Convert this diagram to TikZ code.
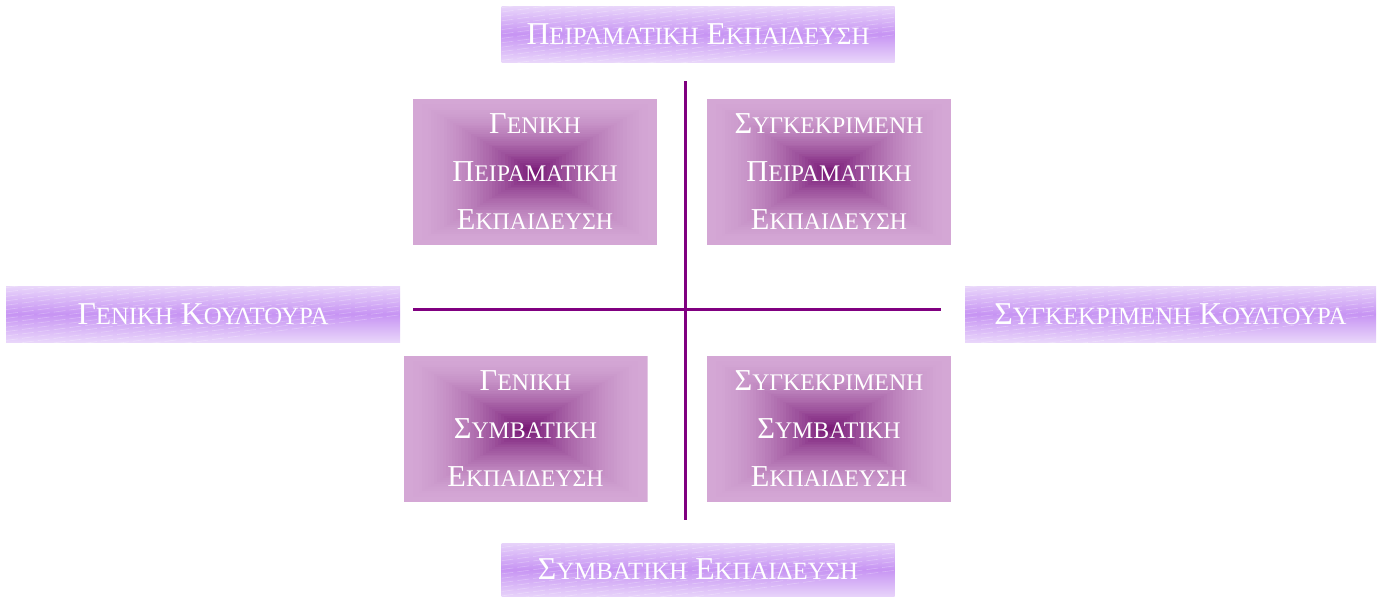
\documentclass[tikz,border=0pt]{standalone}
\usepackage{fontspec}
\setmainfont{Liberation Serif}
\usetikzlibrary{calc}
\definecolor{boxedge}{HTML}{D4A7D5}
\definecolor{boxcore}{HTML}{741372}
\definecolor{banlight}{HTML}{F0E4FC}
\definecolor{bandark}{HTML}{C794F3}
\definecolor{axis}{HTML}{800080}
\newcommand\gsc[2]{#1{\fontsize{11.9}{24}\selectfont #2}}
\newcommand\bsc[2]{#1{\fontsize{12.4}{24}\selectfont #2}}
\tikzset{
  quad/.style={minimum width=122pt, minimum height=73pt, inner sep=0pt,
               text=white, align=center, font=\fontsize{15.2}{24}\selectfont,
               path picture={
                 \foreach \k in {0,...,40}{
                   \pgfmathtruncatemacro\p{100*(\k/40)^1.7}
                   \pgfmathsetmacro\f{1-\k/40}
                   \fill[boxcore!\p!boxedge]
                     ($(path picture bounding box.center)!\f!(path picture bounding box.south west)$)
                     rectangle
                     ($(path picture bounding box.center)!\f!(path picture bounding box.north east)$);
                 }
               }},
  banner/.style={minimum height=28pt, inner sep=0pt, text=white,
                 font=\fontsize{15.9}{18}\selectfont,
                 path picture={
                   \shade[top color=banlight, bottom color=banlight, middle color=bandark,
                          rotate around={10:(path picture bounding box.center)}]
                     ($(path picture bounding box.center)+(-130pt,-17pt)$) rectangle
                     ($(path picture bounding box.center)+(130pt,17pt)$);
                   \foreach \k in {-12,...,12}{
                     \draw[white, opacity=0.28, line width=0.3pt, dash pattern=on 6pt off 2pt]
                       ($(path picture bounding box.west)+(0,2.2*\k pt)$) --
                       ($(path picture bounding box.east)+(0,2.2*\k pt+26pt)$);
                   }
                 }},
  ax/.style={draw=axis, line width=1.5pt}
}
\begin{document}
\begin{tikzpicture}[x=0.5pt,y=-0.5pt]
\useasboundingbox (0,0) rectangle (1378,596);
% banners
\node[banner, minimum width=196.5pt] (P) at (698,34)    {\bsc{Π}{ΕΙΡΑΜΑΤΙΚΗ} \bsc{Ε}{ΚΠΑΙΔΕΥΣΗ}};
\node[banner, minimum width=196.5pt, minimum height=26.5pt] (S) at (698,569.5)
  {\bsc{Σ}{ΥΜΒΑΤΙΚΗ} \bsc{Ε}{ΚΠΑΙΔΕΥΣΗ}};
\node[banner, minimum width=197pt] (G) at (203,314)     {\bsc{Γ}{ΕΝΙΚΗ} \bsc{Κ}{ΟΥΛΤΟΥΡΑ}};
\node[banner, minimum width=205.5pt] (K) at (1170.5,314) {\bsc{Σ}{ΥΓΚΕΚΡΙΜΕΝΗ} \bsc{Κ}{ΟΥΛΤΟΥΡΑ}};
% quadrants
\node[quad] (GP) at (535,172)   {\gsc{Γ}{ΕΝΙΚΗ}\\\gsc{Π}{ΕΙΡΑΜΑΤΙΚΗ}\\\gsc{Ε}{ΚΠΑΙΔΕΥΣΗ}};
\node[quad] (SP) at (829,172)   {\gsc{Σ}{ΥΓΚΕΚΡΙΜΕΝΗ}\\\gsc{Π}{ΕΙΡΑΜΑΤΙΚΗ}\\\gsc{Ε}{ΚΠΑΙΔΕΥΣΗ}};
\node[quad] (GS) at (525.5,429) {\gsc{Γ}{ΕΝΙΚΗ}\\\gsc{Σ}{ΥΜΒΑΤΙΚΗ}\\\gsc{Ε}{ΚΠΑΙΔΕΥΣΗ}};
\node[quad] (SS) at (829,429)   {\gsc{Σ}{ΥΓΚΕΚΡΙΜΕΝΗ}\\\gsc{Σ}{ΥΜΒΑΤΙΚΗ}\\\gsc{Ε}{ΚΠΑΙΔΕΥΣΗ}};
% axes
\coordinate (vt) at (685,81);
\coordinate (vb) at (685,520);
\coordinate (hl) at (413,309);
\coordinate (hr) at (941,309);
\draw[ax] (vt) -- (vb);
\draw[ax] (hl) -- (hr);
\end{tikzpicture}
\end{document}
